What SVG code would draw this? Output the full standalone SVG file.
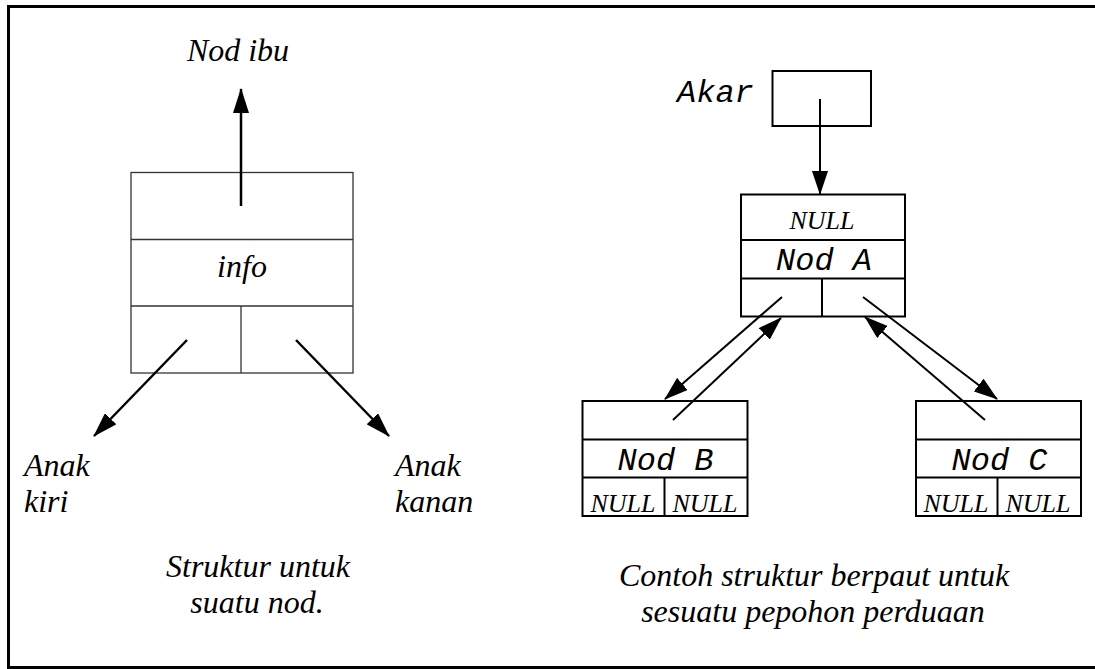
<svg xmlns="http://www.w3.org/2000/svg" width="1095" height="669" viewBox="0 0 1095 669">
  <style>
    .serif { font-family: "Liberation Serif", "Times New Roman", serif; font-style: italic; fill: #000; }
    .mono { font-family: "Liberation Mono", "Courier New", monospace; font-style: italic; fill: #000; }
    .big { font-size: 32px; }
    .small { font-size: 26px; }
    .thin { fill: none; stroke: #333; stroke-width: 1.3; }
    .box { fill: none; stroke: #000; stroke-width: 2; }
    .conn { fill: none; stroke: #000; stroke-width: 2; marker-end: url(#head); }
    .conn-l { fill: none; stroke: #000; stroke-width: 2.5; marker-end: url(#head-l); }
  </style>
  <defs>
    <marker id="head" viewBox="0 0 24 16" refX="23" refY="8" markerWidth="24" markerHeight="16" markerUnits="userSpaceOnUse" orient="auto">
      <path d="M0,0 L24,8 L0,16 z" fill="#000"/>
    </marker>
    <marker id="head-l" viewBox="0 0 25 16" refX="24" refY="8" markerWidth="25" markerHeight="16" markerUnits="userSpaceOnUse" orient="auto">
      <path d="M0,0 L25,8 L0,16 z" fill="#000"/>
    </marker>
  </defs>

  <rect width="1095" height="669" fill="#fff"/>
  <!-- outer frame (continues past the right edge) -->
  <rect x="8.5" y="6.5" width="1100" height="661" fill="none" stroke="#000" stroke-width="3"/>

  <!-- generic node structure -->
  <g id="node-structure">
    <rect class="thin" x="131" y="172.5" width="222" height="200.5"/>
    <line class="thin" x1="131" y1="239.5" x2="353" y2="239.5"/>
    <line class="thin" x1="131" y1="306" x2="353" y2="306"/>
    <line class="thin" x1="241" y1="306" x2="241" y2="373"/>
    <text class="serif big" x="242" y="277" text-anchor="middle">info</text>
  </g>
  <g id="label-parent">
    <text class="serif big" x="238" y="61" text-anchor="middle">Nod ibu</text>
  </g>
  <g id="label-left-child">
    <text class="serif big" x="24" y="476">Anak</text>
    <text class="serif big" x="24" y="512">kiri</text>
  </g>
  <g id="label-right-child">
    <text class="serif big" x="395" y="476">Anak</text>
    <text class="serif big" x="395" y="512">kanan</text>
  </g>
  <g id="caption-left">
    <text class="serif big" x="258" y="577" text-anchor="middle">Struktur untuk</text>
    <text class="serif big" x="257" y="613" text-anchor="middle">suatu nod.</text>
  </g>

  <!-- linked binary tree example -->
  <g id="root">
    <text class="mono big" x="677" y="102">Akar</text>
    <rect class="box" x="772.5" y="71" width="98.5" height="55"/>
  </g>
  <g id="node-a">
    <rect class="box" x="741" y="194.5" width="164" height="122"/>
    <line class="box" x1="741" y1="240" x2="905" y2="240"/>
    <line class="box" x1="741" y1="278.5" x2="905" y2="278.5"/>
    <line class="box" x1="822" y1="278.5" x2="822" y2="316.5"/>
    <text class="serif small" x="822" y="229" text-anchor="middle">NULL</text>
    <text class="mono big" x="824" y="270" text-anchor="middle">Nod A</text>
  </g>
  <g id="node-b">
    <rect class="box" x="582.5" y="401" width="165" height="115"/>
    <line class="box" x1="582.5" y1="439.5" x2="747.5" y2="439.5"/>
    <line class="box" x1="582.5" y1="477.5" x2="747.5" y2="477.5"/>
    <line class="box" x1="664.5" y1="477.5" x2="664.5" y2="516"/>
    <text class="mono big" x="665.5" y="470" text-anchor="middle">Nod B</text>
    <text class="serif small" x="623" y="511.5" text-anchor="middle">NULL</text>
    <text class="serif small" x="705" y="511.5" text-anchor="middle">NULL</text>
  </g>
  <g id="node-c">
    <rect class="box" x="916" y="401" width="165" height="115"/>
    <line class="box" x1="916" y1="439.5" x2="1081" y2="439.5"/>
    <line class="box" x1="916" y1="477.5" x2="1081" y2="477.5"/>
    <line class="box" x1="997.5" y1="477.5" x2="997.5" y2="516"/>
    <text class="mono big" x="999.5" y="470" text-anchor="middle">Nod C</text>
    <text class="serif small" x="956" y="511.5" text-anchor="middle">NULL</text>
    <text class="serif small" x="1038" y="511.5" text-anchor="middle">NULL</text>
  </g>
  <g id="caption-right">
    <text class="serif big" x="814" y="586" text-anchor="middle">Contoh struktur berpaut untuk</text>
    <text class="serif big" x="813" y="622" text-anchor="middle">sesuatu pepohon perduaan</text>
  </g>

  <g id="connectors">
    <line class="conn-l" x1="241" y1="206" x2="241" y2="89"/>
    <line class="conn-l" x1="187" y1="340" x2="94" y2="436"/>
    <line class="conn-l" x1="296" y1="340" x2="389" y2="436"/>
    <line class="conn" x1="820" y1="99" x2="820" y2="194"/>
    <line class="conn" x1="782" y1="297" x2="665" y2="399"/>
    <line class="conn" x1="673" y1="420" x2="781" y2="318"/>
    <line class="conn" x1="863" y1="297" x2="997" y2="399"/>
    <line class="conn" x1="985" y1="420" x2="865" y2="317"/>
  </g>
</svg>
